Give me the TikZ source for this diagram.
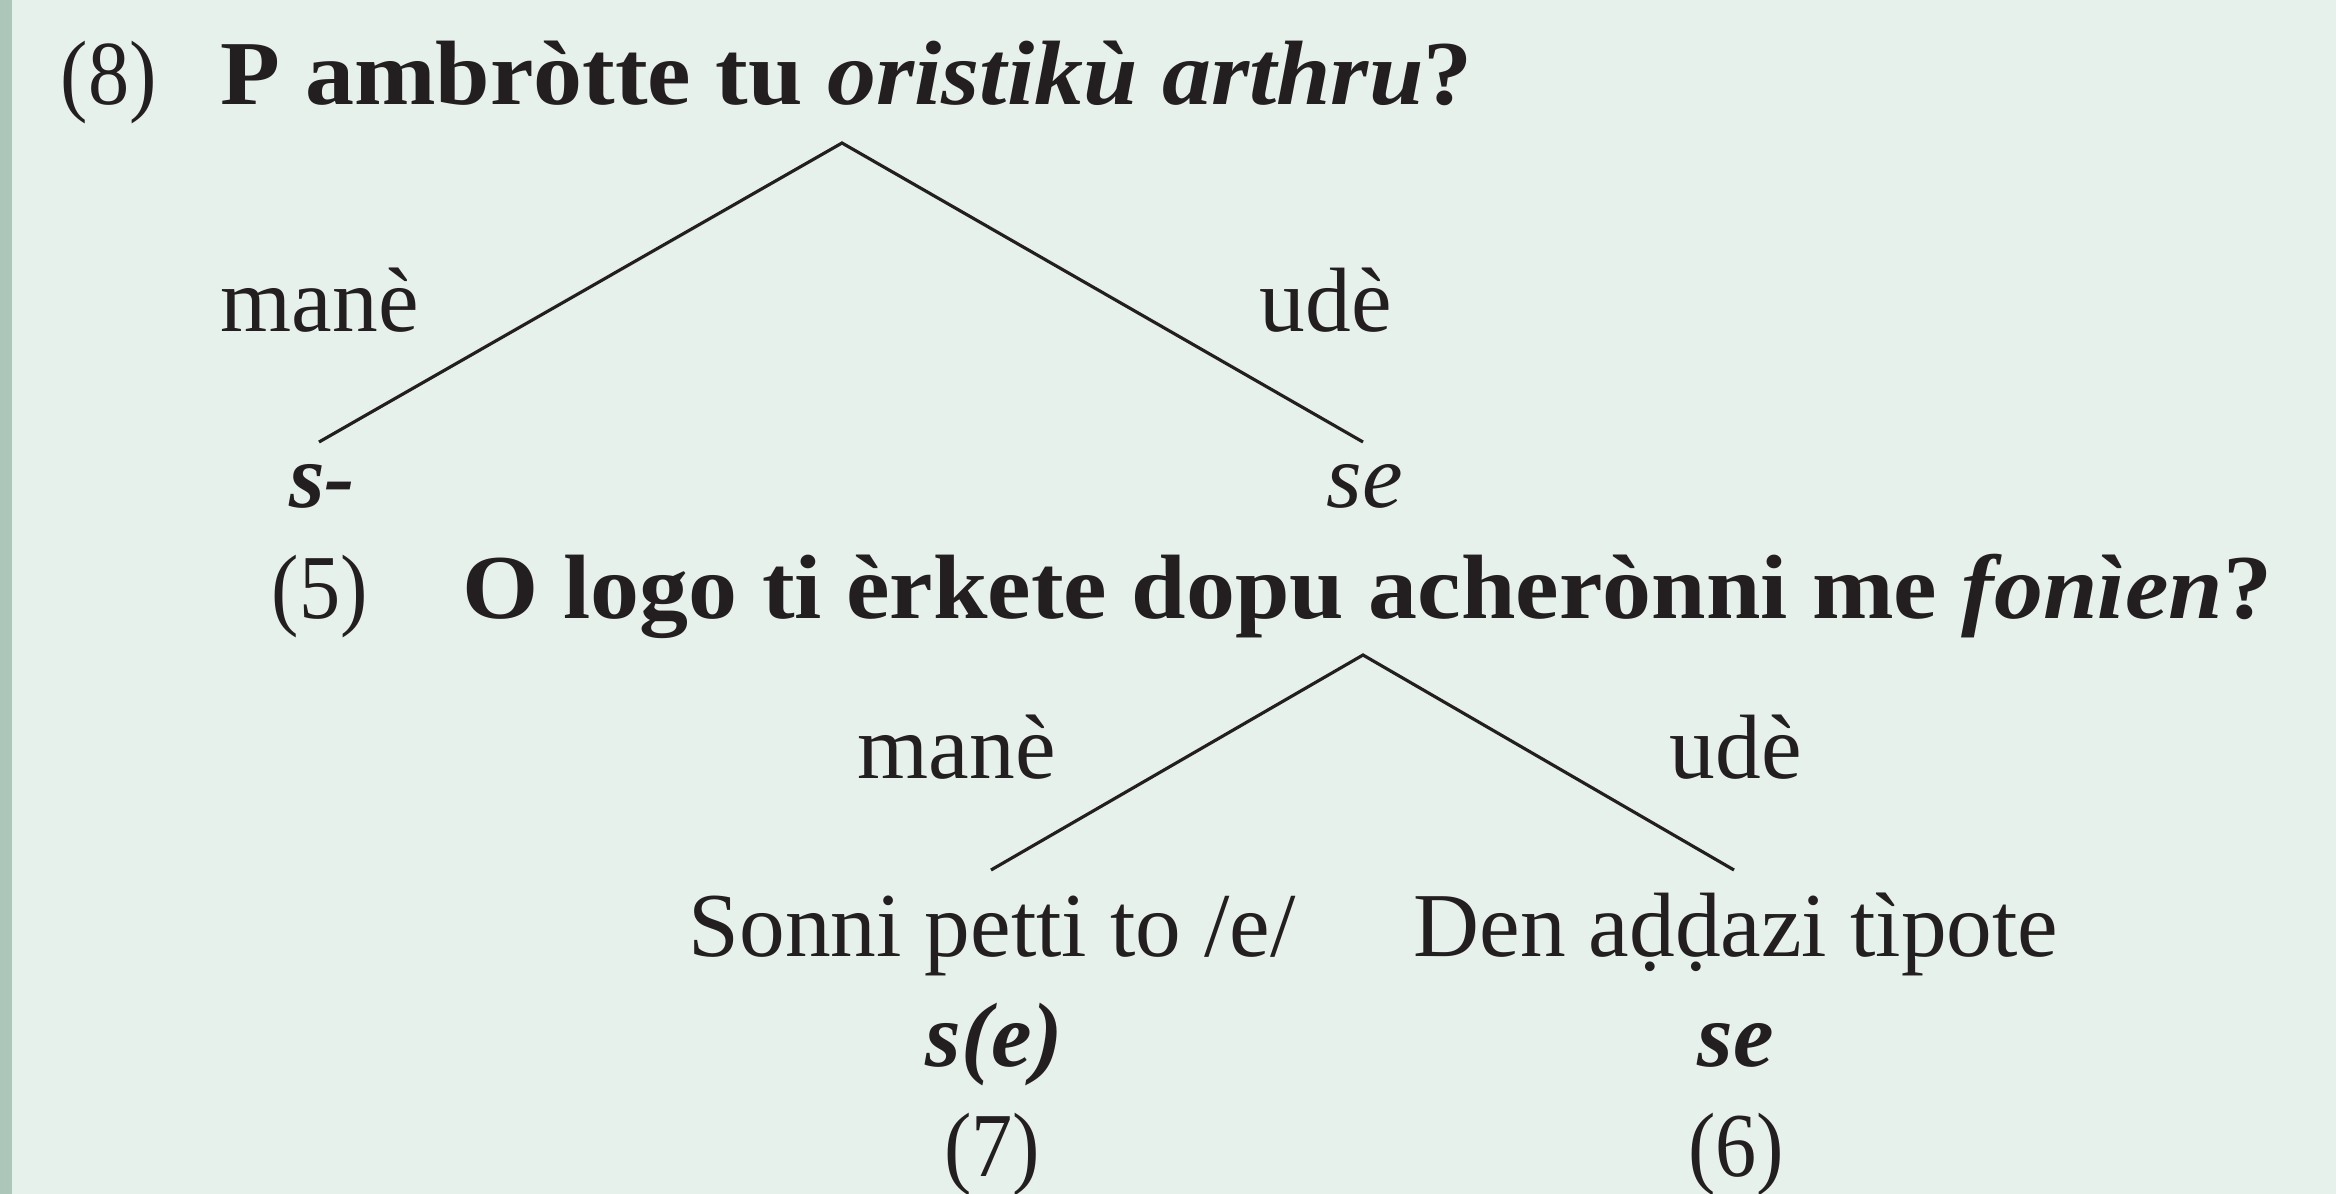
\documentclass[tikz,border=0pt]{standalone}
\usepackage{fontspec}
\setmainfont{Liberation Serif}
\definecolor{bgcol}{RGB}{230,241,235}
\definecolor{barcol}{RGB}{172,198,186}
\definecolor{inkcol}{RGB}{35,31,32}
\newcommand{\myWider}[1]{\scalebox{1.072}[1]{#1}}
\newcommand{\myNarrow}[1]{\scalebox{0.9}[1]{#1}}
\begin{document}
\begin{tikzpicture}[x=0.1mm,y=-0.1mm,
  txt/.style={inner sep=0pt,text=inkcol,font=\fontsize{26}{30}\selectfont},
  branch/.style={draw=inkcol,line width=0.9pt}]
\path[use as bounding box,fill=bgcol] (0,0) rectangle (2336,1194);
\fill[barcol] (0,0) rectangle (12,1194);
% tree 1
\node[txt,anchor=base west] (n8) at (60,104) {\myNarrow{(8)}};
\node[txt,anchor=base west] (q1) at (220,104) {\myWider{\bfseries P ambròtte tu \textit{oristikù arthru}?}};
\node[txt,anchor=base west] (m1) at (220,331) {manè};
\node[txt,anchor=base west] (u1) at (1259,331) {udè};
\node[txt,anchor=base] (l1) at (322,507) {\bfseries\itshape s-};
\node[txt,anchor=base] (r1) at (1365,507) {\itshape se};
\coordinate (a1) at (842,143);
\coordinate (e1l) at (319,442);
\coordinate (e1r) at (1363,442);
\draw[branch] (e1l) -- (a1) -- (e1r);
% tree 2
\node[txt,anchor=base west] (n5) at (271,618) {\myNarrow{(5)}};
\node[txt,anchor=base west] (q2) at (462,618) {\myWider{\bfseries O logo ti èrkete dopu acherònni me \textit{fonìen}?}};
\node[txt,anchor=base west] (m2) at (857,778) {manè};
\node[txt,anchor=base west] (u2) at (1669,778) {udè};
\node[txt,anchor=base] (l2) at (992,956) {Sonni petti to /e/};
\node[txt,anchor=base] (r2) at (1736,956) {Den aḍḍazi tìpote};
\node[txt,anchor=base] (l2b) at (994,1066) {\bfseries\itshape s(e)};
\node[txt,anchor=base] (r2b) at (1736,1066) {\bfseries\itshape se};
\node[txt,anchor=base] (l2c) at (992,1176) {\myNarrow{(7)}};
\node[txt,anchor=base] (r2c) at (1736,1176) {\myNarrow{(6)}};
\coordinate (a2) at (1363,655);
\coordinate (e2l) at (991,870);
\coordinate (e2r) at (1734,870);
\draw[branch] (e2l) -- (a2) -- (e2r);
\end{tikzpicture}
\end{document}
